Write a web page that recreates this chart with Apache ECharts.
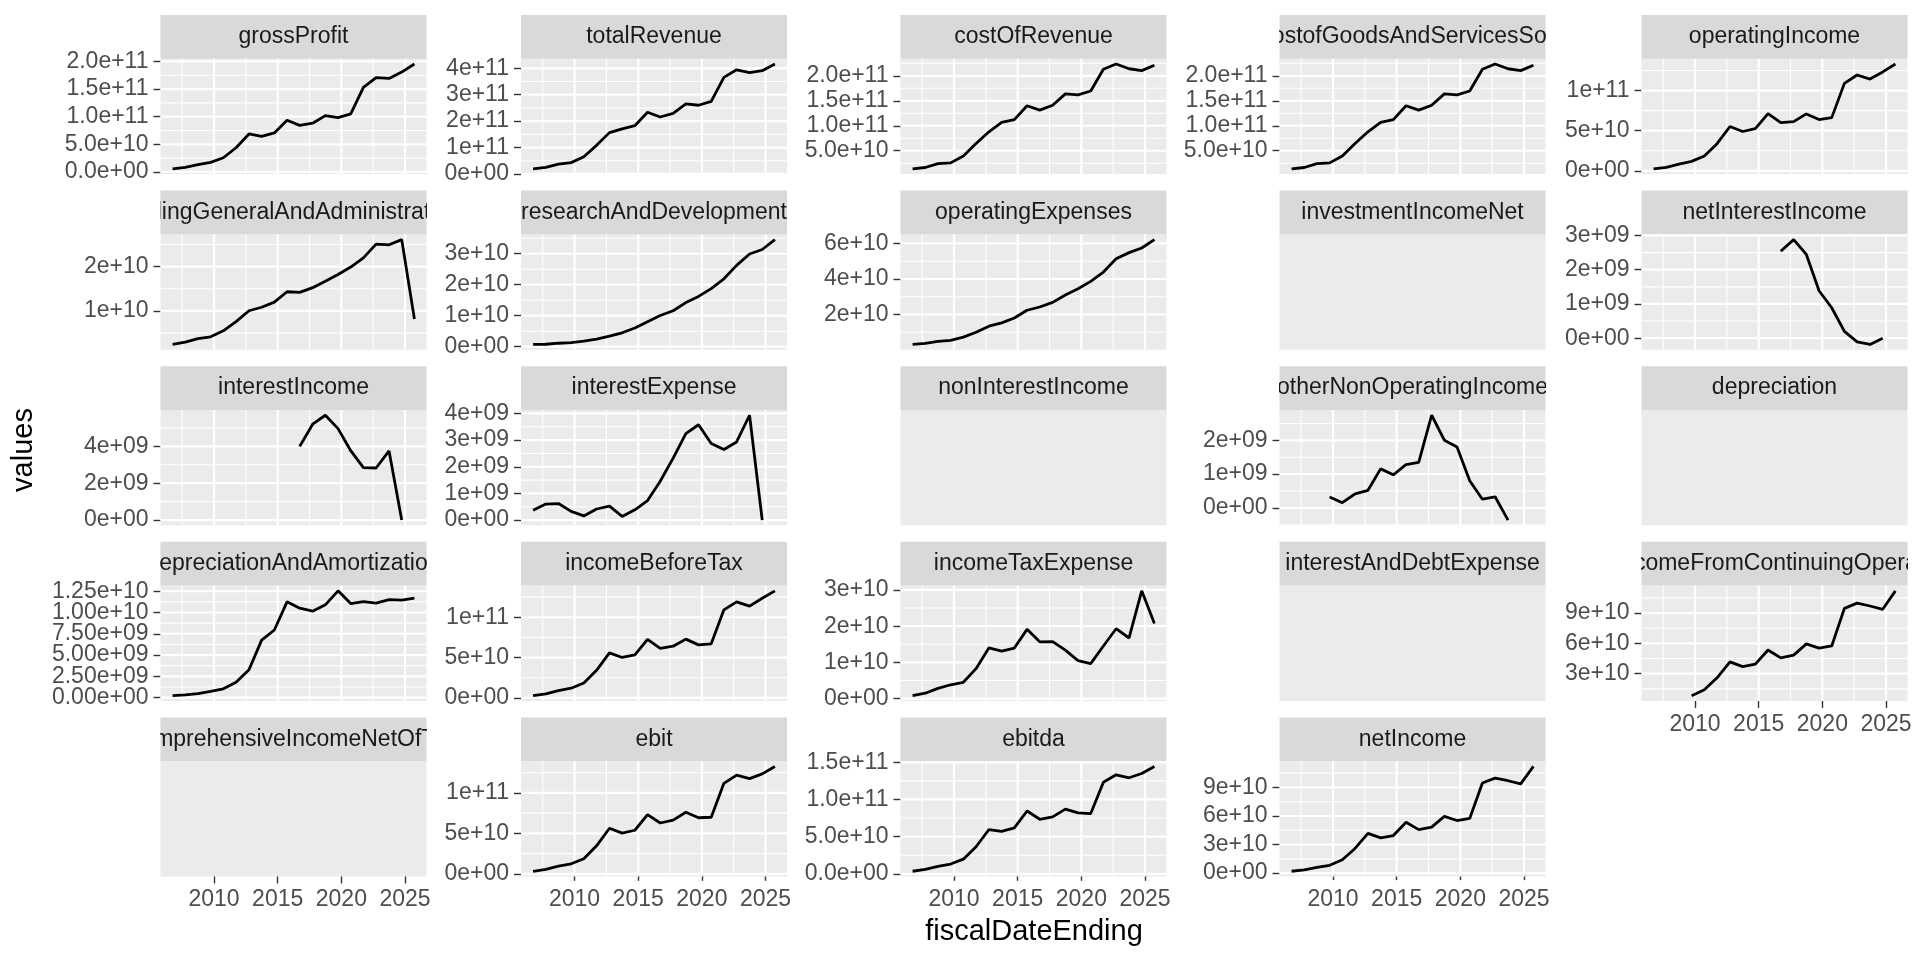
<!DOCTYPE html>
<html>
<head>
<meta charset="utf-8">
<script src="https://cdn.jsdelivr.net/npm/echarts@6.0.0/dist/echarts.min.js"></script>
<style>
html,body{margin:0;padding:0;background:#ffffff;}
#chart{width:1920px;height:960px;}
</style>
</head>
<body>
<div id="chart"></div>
<script>
// ---------------- DATA ----------------
const fiscalDateEnding = ["2006-09-30","2007-09-29","2008-09-27","2009-09-26","2010-09-25","2011-09-24","2012-09-29","2013-09-28","2014-09-27","2015-09-26","2016-09-24","2017-09-30","2018-09-29","2019-09-28","2020-09-26","2021-09-25","2022-09-24","2023-09-30","2024-09-28","2025-09-27"];

const grossProfit = [5.598e9,8.152e9,13.197e9,17.222e9,25.684e9,43.818e9,68.662e9,64.304e9,70.537e9,93.626e9,84.263e9,88.186e9,101.839e9,98.392e9,104.956e9,152.836e9,170.782e9,169.148e9,180.683e9,195.201e9];
const totalRevenue = [19.315e9,24.578e9,37.491e9,42.905e9,65.225e9,108.249e9,156.508e9,170.910e9,182.795e9,233.715e9,215.639e9,229.234e9,265.595e9,260.174e9,274.515e9,365.817e9,394.328e9,383.285e9,391.035e9,416.161e9];
const costOfRevenue = [13.717e9,16.426e9,24.294e9,25.683e9,39.541e9,64.431e9,87.846e9,106.606e9,112.258e9,140.089e9,131.376e9,141.048e9,163.756e9,161.782e9,169.559e9,212.981e9,223.546e9,214.137e9,210.352e9,220.960e9];
const costofGoodsAndServicesSold = [13.717e9,16.426e9,24.294e9,25.683e9,39.541e9,64.431e9,87.846e9,106.606e9,112.258e9,140.089e9,131.376e9,141.048e9,163.756e9,161.782e9,169.559e9,212.981e9,223.546e9,214.137e9,210.352e9,220.960e9];
const operatingIncome = [2.453e9,4.407e9,8.327e9,11.740e9,18.385e9,33.790e9,55.241e9,48.999e9,52.503e9,71.230e9,60.024e9,61.344e9,70.898e9,63.930e9,66.288e9,108.949e9,119.437e9,114.301e9,123.216e9,133.050e9];
const sellingGeneralAndAdministrative = [2.433e9,2.963e9,3.761e9,4.149e9,5.517e9,7.599e9,10.040e9,10.830e9,11.993e9,14.329e9,14.194e9,15.261e9,16.705e9,18.245e9,19.916e9,21.973e9,25.094e9,24.932e9,26.097e9,8.2e9];
const researchAndDevelopment = [0.712e9,0.782e9,1.109e9,1.333e9,1.782e9,2.429e9,3.381e9,4.475e9,6.041e9,8.067e9,10.045e9,11.581e9,14.236e9,16.217e9,18.752e9,21.914e9,26.251e9,29.915e9,31.370e9,34.550e9];
const operatingExpenses = [3.145e9,3.745e9,4.870e9,5.482e9,7.299e9,10.028e9,13.421e9,15.305e9,18.034e9,22.396e9,24.239e9,26.842e9,30.941e9,34.462e9,38.668e9,43.887e9,51.345e9,54.847e9,57.467e9,62.151e9];
const investmentIncomeNet = [null,null,null,null,null,null,null,null,null,null,null,null,null,null,null,null,null,null,null,null];
const netInterestIncome = [null,null,null,null,null,null,null,null,null,null,2.54e9,2.878e9,2.446e9,1.385e9,0.890e9,0.198e9,-0.106e9,-0.183e9,0,null];
const interestIncome = [null,null,null,null,null,null,null,null,null,null,3.999e9,5.201e9,5.686e9,4.961e9,3.763e9,2.843e9,2.825e9,3.750e9,0,null];
const interestExpense = [0.365e9,0.599e9,0.620e9,0.326e9,0.155e9,0.415e9,0.522e9,0.136e9,0.384e9,0.733e9,1.456e9,2.323e9,3.240e9,3.576e9,2.873e9,2.645e9,2.931e9,3.933e9,0,null];
const nonInterestIncome = [null,null,null,null,null,null,null,null,null,null,null,null,null,null,null,null,null,null,null,null];
const otherNonOperatingIncome = [null,null,null,0.326e9,0.155e9,0.415e9,0.522e9,1.156e9,0.980e9,1.285e9,1.348e9,2.745e9,2.005e9,1.807e9,0.803e9,0.258e9,0.33e9,-0.36e9,null,null];
const depreciation = [null,null,null,null,null,null,null,null,null,null,null,null,null,null,null,null,null,null,null,null];
const depreciationAndAmortization = [0.225e9,0.317e9,0.473e9,0.734e9,1.027e9,1.814e9,3.277e9,6.757e9,7.946e9,11.257e9,10.505e9,10.157e9,10.903e9,12.547e9,11.056e9,11.284e9,11.104e9,11.519e9,11.445e9,11.698e9];
const incomeBeforeTax = [2.818e9,5.006e9,8.947e9,12.066e9,18.540e9,34.205e9,55.763e9,50.155e9,53.483e9,72.515e9,61.372e9,64.089e9,72.903e9,65.737e9,67.091e9,109.207e9,119.103e9,113.736e9,123.485e9,132.729e9];
const incomeTaxExpense = [0.829e9,1.511e9,2.828e9,3.831e9,4.527e9,8.283e9,14.030e9,13.118e9,13.973e9,19.121e9,15.685e9,15.738e9,13.372e9,10.481e9,9.680e9,14.527e9,19.300e9,16.741e9,29.749e9,20.719e9];
const interestAndDebtExpense = [null,null,null,null,null,null,null,null,null,null,null,null,null,null,null,null,null,null,null,null];
const netIncomeFromContinuingOperations = [null,null,null,8.235e9,14.013e9,25.922e9,41.733e9,37.037e9,39.510e9,53.394e9,45.687e9,48.351e9,59.531e9,55.256e9,57.411e9,94.680e9,99.803e9,96.995e9,93.736e9,112.010e9];
const comprehensiveIncomeNetOfTax = [null,null,null,null,null,null,null,null,null,null,null,null,null,null,null,null,null,null,null,null];
const ebit = [3.18e9,5.61e9,9.57e9,12.39e9,18.70e9,34.62e9,56.29e9,50.29e9,53.87e9,73.25e9,62.83e9,66.41e9,76.14e9,69.31e9,69.96e9,111.85e9,122.03e9,117.67e9,123.49e9,132.73e9];
const ebitda = [3.41e9,5.93e9,10.04e9,13.12e9,19.73e9,36.43e9,59.57e9,57.05e9,61.81e9,84.51e9,73.33e9,76.57e9,87.05e9,81.86e9,81.02e9,123.14e9,133.14e9,129.19e9,134.93e9,144.43e9];
const netIncome = [1.989e9,3.495e9,6.119e9,8.235e9,14.013e9,25.922e9,41.733e9,37.037e9,39.510e9,53.394e9,45.687e9,48.351e9,59.531e9,55.256e9,57.411e9,94.680e9,99.803e9,96.995e9,93.736e9,112.010e9];

// tick labels (y) per panel
const yTicks_grossProfit = ["0.0e+00","5.0e+10","1.0e+11","1.5e+11","2.0e+11"];
const yTicks_totalRevenue = ["0e+00","1e+11","2e+11","3e+11","4e+11"];
const yTicks_costOfRevenue = ["5.0e+10","1.0e+11","1.5e+11","2.0e+11"];
const yTicks_costofGoods = ["5.0e+10","1.0e+11","1.5e+11","2.0e+11"];
const yTicks_operatingIncome = ["0e+00","5e+10","1e+11"];
const yTicks_sga = ["1e+10","2e+10"];
const yTicks_rnd = ["0e+00","1e+10","2e+10","3e+10"];
const yTicks_opex = ["2e+10","4e+10","6e+10"];
const yTicks_netInterestIncome = ["0e+00","1e+09","2e+09","3e+09"];
const yTicks_interestIncome = ["0e+00","2e+09","4e+09"];
const yTicks_interestExpense = ["0e+00","1e+09","2e+09","3e+09","4e+09"];
const yTicks_otherNonOp = ["0e+00","1e+09","2e+09"];
const yTicks_dna = ["0.00e+00","2.50e+09","5.00e+09","7.50e+09","1.00e+10","1.25e+10"];
const yTicks_incomeBeforeTax = ["0e+00","5e+10","1e+11"];
const yTicks_incomeTax = ["0e+00","1e+10","2e+10","3e+10"];
const yTicks_netIncomeCont = ["3e+10","6e+10","9e+10"];
const yTicks_ebit = ["0e+00","5e+10","1e+11"];
const yTicks_ebitda = ["0.0e+00","5.0e+10","1.0e+11","1.5e+11"];
const yTicks_netIncome = ["0e+00","3e+10","6e+10","9e+10"];
const xTickLabels = ["2010","2015","2020","2025"];

const panels = [
  ["grossProfit", grossProfit, yTicks_grossProfit],
  ["totalRevenue", totalRevenue, yTicks_totalRevenue],
  ["costOfRevenue", costOfRevenue, yTicks_costOfRevenue],
  ["costofGoodsAndServicesSold", costofGoodsAndServicesSold, yTicks_costofGoods],
  ["operatingIncome", operatingIncome, yTicks_operatingIncome],
  ["sellingGeneralAndAdministrative", sellingGeneralAndAdministrative, yTicks_sga],
  ["researchAndDevelopment", researchAndDevelopment, yTicks_rnd],
  ["operatingExpenses", operatingExpenses, yTicks_opex],
  ["investmentIncomeNet", investmentIncomeNet, null],
  ["netInterestIncome", netInterestIncome, yTicks_netInterestIncome],
  ["interestIncome", interestIncome, yTicks_interestIncome],
  ["interestExpense", interestExpense, yTicks_interestExpense],
  ["nonInterestIncome", nonInterestIncome, null],
  ["otherNonOperatingIncome", otherNonOperatingIncome, yTicks_otherNonOp],
  ["depreciation", depreciation, null],
  ["depreciationAndAmortization", depreciationAndAmortization, yTicks_dna],
  ["incomeBeforeTax", incomeBeforeTax, yTicks_incomeBeforeTax],
  ["incomeTaxExpense", incomeTaxExpense, yTicks_incomeTax],
  ["interestAndDebtExpense", interestAndDebtExpense, null],
  ["netIncomeFromContinuingOperations", netIncomeFromContinuingOperations, yTicks_netIncomeCont],
  ["comprehensiveIncomeNetOfTax", comprehensiveIncomeNetOfTax, null],
  ["ebit", ebit, yTicks_ebit],
  ["ebitda", ebitda, yTicks_ebitda],
  ["netIncome", netIncome, yTicks_netIncome]
];

// ---------------- LAYOUT / STYLE ----------------
const FONT = '"Liberation Sans", Arial, Helvetica, sans-serif';
const colLeft = [160.5, 521, 900.5, 1279.5, 1641.5];
const panelW = 266;
const rowPitch = 175.6;
const firstStripTop = 15;
const stripH = 43.8;
const panelH = 115.3;
const axisFont = 23;

function decYear(s) {
  const p = s.split('-').map(Number);
  const t = Date.UTC(p[0], p[1] - 1, p[2]);
  const t0 = Date.UTC(p[0], 0, 1), t1 = Date.UTC(p[0] + 1, 0, 1);
  return p[0] + (t - t0) / (t1 - t0);
}
const xs = fiscalDateEnding.map(decYear);
const xLo = Math.min(...xs), xHi = Math.max(...xs);
const xMin = xLo - 0.05 * (xHi - xLo), xMax = xHi + 0.05 * (xHi - xLo);
const xMajor = xTickLabels.map(Number);
const xMinorAll = [2005, 2007.5, 2012.5, 2017.5, 2022.5, 2027.5];
const xMinor = xMinorAll.filter(v => v > xMin && v < xMax);

const grids = [], xAxes = [], yAxes = [], series = [];
const tickStyle = { length: 7, lineStyle: { color: '#333333', width: 1.4 } };

function makeYAxis(gridIndex, yMin, yMax, values, labels, show) {
  return {
    gridIndex: gridIndex, type: 'value', position: 'left', offset: 0, min: yMin, max: yMax,
    splitLine: { show: false }, axisLine: { show: false },
    axisTick: Object.assign({ show: show, customValues: values }, tickStyle),
    axisLabel: { show: show, customValues: values, margin: 12, color: '#4D4D4D',
      fontSize: axisFont, fontFamily: FONT, hideOverlap: false, showMinLabel: true, showMaxLabel: true,
      formatter: v => {
        let best = 0, bd = Infinity;
        values.forEach((b, k) => { const d = Math.abs(b - v); if (d < bd) { bd = d; best = k; } });
        return labels.length ? labels[best] : '';
      } }
  };
}

panels.forEach((pn, i) => {
  const name = pn[0], vals = pn[1], tickLabels = pn[2];
  const col = i % 5, row = Math.floor(i / 5);
  const stripTop = firstStripTop + row * rowPitch;
  const panelTop = stripTop + stripH;
  const empty = vals.every(v => v === null);
  const isBottom = (row === 4) || (row === 3 && col === 4);
  const gPlot = grids.length;

  grids.push({ left: colLeft[col], top: panelTop, width: panelW, height: panelH,
    show: true, backgroundColor: '#EBEBEB', borderWidth: 0 });
  grids.push({ left: colLeft[col], top: stripTop, width: panelW, height: stripH,
    show: true, backgroundColor: '#D9D9D9', borderWidth: 0 });

  let yMin = 0, yMax = 1, yBreaks = [], labels = [];
  if (!empty) {
    const nn = vals.filter(v => v !== null);
    const lo = Math.min(...nn), hi = Math.max(...nn);
    yMin = lo - 0.05 * (hi - lo); yMax = hi + 0.05 * (hi - lo);
    labels = tickLabels;
    yBreaks = tickLabels.map(Number);
  }

  const xPlotIdx = xAxes.length;
  xAxes.push({
    gridIndex: gPlot, type: 'value', min: xMin, max: xMax,
    splitLine: { show: false }, axisLine: { show: false },
    axisTick: Object.assign({ show: isBottom, customValues: xMajor }, tickStyle),
    axisLabel: { show: isBottom, customValues: xMajor, margin: 12, color: '#4D4D4D',
      fontSize: axisFont, fontFamily: FONT, hideOverlap: false, showMinLabel: true, showMaxLabel: true,
      formatter: v => { const k = xMajor.indexOf(v); return k >= 0 ? xTickLabels[k] : String(v); } }
  });
  const xStripIdx = xAxes.length;
  xAxes.push({ gridIndex: gPlot + 1, type: 'value', min: 0, max: 1, show: false });

  // two y axes on the same side (alternate labels) so dense labels are all kept
  const evenV = yBreaks.filter((v, k) => k % 2 === 0), evenL = labels.filter((v, k) => k % 2 === 0);
  const oddV = yBreaks.filter((v, k) => k % 2 === 1), oddL = labels.filter((v, k) => k % 2 === 1);
  const yPlotIdx = yAxes.length;
  yAxes.push(makeYAxis(gPlot, yMin, yMax, evenV, evenL, !empty));
  yAxes.push(makeYAxis(gPlot, yMin, yMax, oddV, oddL, !empty && oddV.length > 0));
  const yStripIdx = yAxes.length;
  yAxes.push({ gridIndex: gPlot + 1, type: 'value', min: 0, max: 1, show: false });

  // strip label, clipped to the strip
  series.push({
    type: 'custom', xAxisIndex: xStripIdx, yAxisIndex: yStripIdx, clip: true, silent: true, z: 2,
    data: [[0.5, 0.5]],
    renderItem: (params, api) => {
      const p = api.coord([0.5, 0.5]);
      return { type: 'text', x: p[0], y: p[1],
        style: { text: name, fill: '#1A1A1A', fontSize: axisFont, fontFamily: FONT,
          align: 'center', verticalAlign: 'middle' } };
    }
  });

  if (!empty) {
    // gridlines: kind 0 = x major, 1 = x minor, 2 = y major, 3 = y minor
    const gl = [];
    xMajor.forEach(v => gl.push([v, yMin, 0]));
    xMinor.forEach(v => gl.push([v, yMin, 1]));
    yBreaks.forEach(v => gl.push([xMin, v, 2]));
    const step = yBreaks[1] - yBreaks[0];
    const ext = [yBreaks[0] - step].concat(yBreaks, [yBreaks[yBreaks.length - 1] + step]);
    for (let k = 0; k < ext.length - 1; k++) {
      const m = (ext[k] + ext[k + 1]) / 2;
      if (m > yMin && m < yMax) gl.push([xMin, m, 3]);
    }
    series.push({
      type: 'custom', xAxisIndex: xPlotIdx, yAxisIndex: yPlotIdx, clip: false, silent: true, z: 1,
      data: gl,
      renderItem: (params, api) => {
        const cs = params.coordSys;
        const kind = api.value(2);
        const p = api.coord([api.value(0), api.value(1)]);
        let shape;
        if (kind < 2) shape = { x1: p[0], y1: cs.y, x2: p[0], y2: cs.y + cs.height };
        else shape = { x1: cs.x, y1: p[1], x2: cs.x + cs.width, y2: p[1] };
        return { type: 'line', shape: shape,
          style: { stroke: '#FFFFFF', lineWidth: (kind % 2 === 0) ? 2.2 : 1.1 } };
      }
    });
    const pts = [];
    vals.forEach((v, k) => { if (v !== null) pts.push([xs[k], v]); });
    series.push({
      type: 'line', name: name, xAxisIndex: xPlotIdx, yAxisIndex: yPlotIdx, data: pts,
      showSymbol: false, symbol: 'none', clip: false, silent: true, z: 3,
      lineStyle: { color: '#000000', width: 2.8 }
    });
  }
});

const chart = echarts.init(document.getElementById('chart'), null, { renderer: 'canvas' });
chart.setOption({
  animation: false,
  backgroundColor: '#FFFFFF',
  grid: grids,
  xAxis: xAxes,
  yAxis: yAxes,
  series: series,
  graphic: [
    { type: 'text', x: 1034, y: 932, silent: true,
      style: { text: 'fiscalDateEnding', fill: '#000000', fontSize: 29, fontFamily: FONT, align: 'center', verticalAlign: 'middle' } },
    { type: 'text', x: 24, y: 450, rotation: Math.PI / 2, silent: true,
      style: { text: 'values', fill: '#000000', fontSize: 29, fontFamily: FONT, align: 'center', verticalAlign: 'middle' } }
  ]
});
</script>
</body>
</html>
